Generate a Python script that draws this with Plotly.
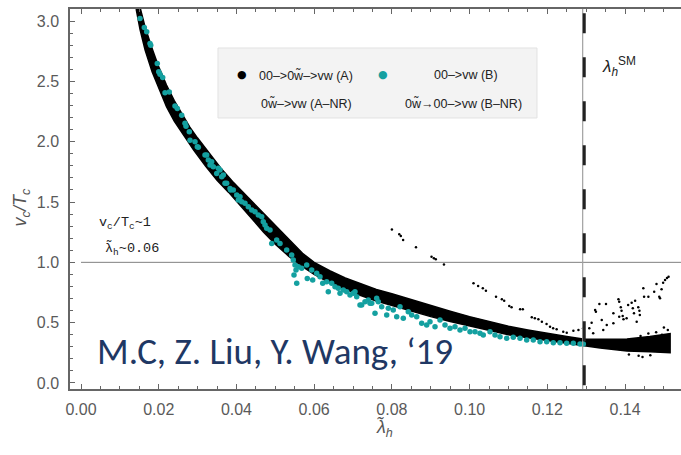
import plotly.graph_objects as go

# ---- black band (A): outline of the dense region, upper edge then lower edge back
band_upper_x = [0.0153, 0.0165, 0.018, 0.020, 0.022, 0.024, 0.026, 0.028, 0.030, 0.033,
                0.036, 0.039, 0.042, 0.045, 0.048, 0.051, 0.054, 0.057, 0.060, 0.064,
                0.068, 0.072, 0.076, 0.080, 0.085, 0.090, 0.095, 0.100, 0.105, 0.110,
                0.115, 0.120, 0.125, 0.1292, 0.1336, 0.1405, 0.1464, 0.1516]
band_upper_y = [3.10, 2.95, 2.80, 2.62, 2.47, 2.34, 2.23, 2.12, 2.03, 1.90,
                1.78, 1.67, 1.57, 1.47, 1.37, 1.27, 1.17, 1.075, 1.00, 0.93,
                0.87, 0.82, 0.775, 0.74, 0.69, 0.64, 0.595, 0.55, 0.51, 0.47,
                0.44, 0.41, 0.385, 0.365, 0.362, 0.365, 0.385, 0.41]
band_lower_x = [0.1516, 0.1464, 0.1405, 0.1336, 0.1292, 0.125, 0.120, 0.115, 0.110, 0.105,
                0.100, 0.095, 0.090, 0.085, 0.080, 0.076, 0.072, 0.068, 0.064, 0.060,
                0.057, 0.0535, 0.050, 0.047, 0.044, 0.041, 0.038, 0.035, 0.032, 0.029,
                0.026, 0.024, 0.022, 0.0202, 0.0183, 0.0165, 0.0152, 0.0142]
band_lower_y = [0.25, 0.258, 0.266, 0.29, 0.31, 0.325, 0.35, 0.375, 0.40, 0.435,
                0.47, 0.51, 0.55, 0.595, 0.64, 0.68, 0.725, 0.775, 0.83, 0.90,
                0.965, 1.05, 1.15, 1.25, 1.36, 1.47, 1.58, 1.68, 1.80, 1.93,
                2.07, 2.17, 2.29, 2.43, 2.58, 2.76, 2.93, 3.10]

# ---- sparse black points (A-NR etc.)
sparse_x = [0.0800, 0.0819, 0.0823, 0.0829, 0.0862, 0.0902, 0.0908, 0.0913, 0.0934,
            0.1010, 0.1022, 0.1034, 0.1042, 0.1068, 0.1083, 0.1089, 0.1102, 0.1108,
            0.1130, 0.1137, 0.1160, 0.1168, 0.1177, 0.1186, 0.1198, 0.1207, 0.1215,
            0.1224, 0.1241, 0.1250, 0.1267, 0.1280, 0.1292,
            0.1334, 0.1351, 0.1323, 0.1325, 0.1383, 0.1385, 0.1370, 0.1389, 0.1391,
            0.1385, 0.1394, 0.1396, 0.1404, 0.1408, 0.1417, 0.1420, 0.1423, 0.1426,
            0.1434, 0.1437, 0.1438, 0.1447, 0.1449, 0.1460, 0.1475, 0.1481, 0.1488,
            0.1494, 0.1498, 0.1503, 0.1340, 0.1344, 0.1353, 0.1314, 0.1308, 0.1318,
            0.1430, 0.1370, 0.1490, 0.1508, 0.1512,
            0.1480, 0.1500, 0.1510, 0.1495, 0.1460, 0.1440,
            0.1410, 0.1435, 0.1445, 0.1465]
sparse_y = [1.273, 1.232, 1.218, 1.185, 1.124, 1.046, 1.033, 1.025, 0.983,
            0.826, 0.804, 0.785, 0.765, 0.715, 0.693, 0.682, 0.638, 0.627,
            0.611, 0.611, 0.544, 0.536, 0.528, 0.508, 0.489, 0.466, 0.453,
            0.445, 0.425, 0.417, 0.433, 0.439, 0.453,
            0.655, 0.655, 0.605, 0.591, 0.693, 0.674, 0.577, 0.627, 0.599,
            0.549, 0.555, 0.528, 0.536, 0.646, 0.665, 0.619, 0.577, 0.682,
            0.627, 0.599, 0.563, 0.785, 0.715, 0.715, 0.756, 0.820, 0.715,
            0.776, 0.831, 0.853, 0.522, 0.439, 0.481, 0.500, 0.453, 0.412,
            0.508, 0.494, 0.702, 0.870, 0.880,
            0.420, 0.460, 0.440, 0.400, 0.410, 0.390,
            0.235, 0.225, 0.215, 0.230]

# ---- teal points (B)
teal_x = [0.01518, 0.01629, 0.01691, 0.01776, 0.01794, 0.01963, 0.02000, 0.02033, 0.02102,
          0.02162, 0.02272, 0.02419, 0.02478, 0.02591, 0.02676, 0.02702, 0.02787, 0.02805,
          0.02934, 0.02993, 0.03019, 0.03235, 0.03276, 0.03320, 0.03363, 0.03404, 0.03492,
          0.03533, 0.03577, 0.03621, 0.03662, 0.03749, 0.03834, 0.03919, 0.04007, 0.04092,
          0.03191, 0.03706, 0.03852, 0.04048, 0.04135, 0.04220, 0.04305, 0.04393, 0.04478,
          0.04563, 0.04650, 0.04691, 0.04735, 0.04779, 0.04864, 0.04907, 0.05036, 0.05121,
          0.05293, 0.05422, 0.05463, 0.05507, 0.05533, 0.05481, 0.05551, 0.05592, 0.05679,
          0.05808, 0.05823, 0.05937, 0.05962, 0.06065, 0.06150, 0.06220, 0.06323, 0.06364,
          0.06451, 0.06536, 0.06621, 0.06665, 0.06750, 0.06837, 0.06922, 0.07007, 0.07095,
          0.07223, 0.07308, 0.07393, 0.07481, 0.07566, 0.07609, 0.07650,
          0.07051, 0.07180, 0.07437, 0.07738, 0.07867, 0.07908, 0.08036, 0.08124, 0.08209,
          0.08294, 0.08422, 0.08510, 0.08639, 0.08767, 0.08896, 0.08981, 0.09110, 0.09238,
          0.09367, 0.09496, 0.09624, 0.09753, 0.09882, 0.10010, 0.10139, 0.10268, 0.10352,
          0.10525, 0.10654, 0.10782, 0.10955, 0.11124, 0.11297, 0.11469, 0.11639, 0.11812,
          0.11984, 0.12154, 0.12326, 0.12498, 0.12669, 0.12841, 0.12926]
teal_y = [3.022, 2.947, 2.911, 2.814, 2.800, 2.649, 2.579, 2.560, 2.533,
          2.405, 2.413, 2.295, 2.276, 2.220, 2.152, 2.129, 2.082, 2.013,
          1.999, 1.958, 1.953, 1.889, 1.848, 1.806, 1.833, 1.792, 1.737,
          1.779, 1.765, 1.709, 1.723, 1.655, 1.613, 1.599, 1.558, 1.544,
          1.889, 1.655, 1.599, 1.516, 1.502, 1.489, 1.461, 1.433, 1.419,
          1.392, 1.378, 1.336, 1.309, 1.282, 1.268, 1.157, 1.185, 1.157,
          1.102, 1.060, 1.019, 0.978, 0.936, 0.895, 0.826, 0.964, 0.950,
          0.978, 0.867, 0.936, 0.853, 0.909, 0.881, 0.826, 0.839, 0.756,
          0.826, 0.798, 0.785, 0.743, 0.771, 0.756, 0.729, 0.743, 0.715,
          0.646, 0.674, 0.688, 0.660, 0.577, 0.702, 0.674,
          0.756, 0.646, 0.660, 0.632, 0.563, 0.619, 0.605, 0.549, 0.632,
          0.536, 0.591, 0.563, 0.549, 0.495, 0.481, 0.508, 0.466, 0.522,
          0.481, 0.453, 0.466, 0.439, 0.453, 0.425, 0.425, 0.412, 0.398,
          0.425, 0.398, 0.384, 0.370, 0.379, 0.370, 0.356, 0.356, 0.342,
          0.342, 0.334, 0.334, 0.329, 0.329, 0.323, 0.323]

x_ticks = [0.00, 0.02, 0.04, 0.06, 0.08, 0.10, 0.12, 0.14]
y_ticks = [0.0, 0.5, 1.0, 1.5, 2.0, 2.5, 3.0]
lambda_sm = 0.1291
x_range = [-0.00283, 0.1544]
y_range = [-0.05, 3.1]

TEAL = "rgb(20,160,160)"
AXC = "#666666"

fig = go.Figure()
fig.add_trace(go.Scatter(x=band_upper_x + band_lower_x, y=band_upper_y + band_lower_y,
                         mode="lines", fill="toself", fillcolor="black",
                         line=dict(color="black", width=1.5),
                         hoverinfo="skip", showlegend=False))
fig.add_trace(go.Scatter(x=sparse_x, y=sparse_y, mode="markers",
                         marker=dict(color="black", size=2.5), showlegend=False))
fig.add_trace(go.Scatter(x=teal_x, y=teal_y, mode="markers",
                         marker=dict(color=TEAL, size=5.5), showlegend=False))

# reference lines
fig.add_shape(type="line", xref="x", yref="y", x0=0, x1=x_range[1], y0=1.0, y1=1.0,
              line=dict(color="#808080", width=1), layer="below")
fig.add_shape(type="line", xref="x", yref="y", x0=lambda_sm, x1=lambda_sm,
              y0=y_range[0], y1=y_range[1], line=dict(color="#a0a0a0", width=1.2))
fig.add_shape(type="line", xref="x", yref="y", x0=lambda_sm + 0.0004, x1=lambda_sm + 0.0004,
              y0=3.065, y1=y_range[0], line=dict(color="#222222", width=3, dash="20px,24px"))

# custom legend box
fig.add_shape(type="rect", xref="paper", yref="paper", x0=0.2422, x1=0.7643, y0=0.7132, y1=0.8974,
              fillcolor="#f3f3f3", line=dict(color="#e2e2e2", width=1), layer="above")

lf = dict(family="Liberation Sans, Arial", size=12.5, color="#222222")
r1, r2 = 0.8500, 0.7760
ann = [
    dict(x=0.2700, y=r1, text="●", font=dict(family="DejaVu Sans", size=11, color="black")),
    dict(x=0.3863, y=r1, text="00–>0w̃–>vw (A)", font=lf),
    dict(x=0.5123, y=r1, text="●", font=dict(family="DejaVu Sans", size=11, color=TEAL)),
    dict(x=0.6481, y=r1, text="00–>vw (B)", font=lf),
    dict(x=0.3863, y=r2, text="0w̃–>vw (A–NR)", font=lf),
    dict(x=0.6448, y=r2, text="0w̃→00–>vw (B–NR)", font=lf),
    dict(x=0.044, y=0.435, xanchor="left", text="v<sub>c</sub>/T<sub>c</sub>~1",
         font=dict(family="Liberation Mono", size=13.5, color="#222222")),
    dict(x=0.054, y=0.368, xanchor="left", text="λ̃<sub>h</sub>~0.06",
         font=dict(family="Liberation Mono", size=13.5, color="#222222")),
    dict(x=0.930, y=0.888, text="<i>λ<sub>h</sub></i><sup>SM</sup>",
         font=dict(family="Liberation Sans", size=17, color="#222222")),
    dict(x=0.3355, y=0.033, text="M.C, Z. Liu, Y. Wang, ‘19",
         font=dict(family="Carlito, Liberation Sans Narrow, Liberation Sans", size=37, color="#1F3864")),
    dict(x=0.5155, y=-0.14, text="<i>λ̃<sub>h</sub></i>",
         font=dict(family="Liberation Sans", size=18, color="#555555")),
    dict(x=-0.100, y=0.479, textangle=-90, text="<i>v<sub>c</sub>/T<sub>c</sub></i>",
         font=dict(family="Liberation Sans", size=18, color="#555555")),
]
for a in ann:
    a.setdefault("xref", "paper")
    a.setdefault("yref", "paper")
    a.setdefault("showarrow", False)
    fig.add_annotation(**a)

fig.update_layout(
    width=681, height=455,
    margin=dict(l=70, r=0, t=9, b=66),
    paper_bgcolor="white", plot_bgcolor="white",
    showlegend=False,
    font=dict(family="Liberation Sans, Arial", color="#555555"),
)
fig.update_xaxes(range=x_range, tickvals=x_ticks, tickformat=".2f", ticks="inside",
                 ticklen=5, tickwidth=1, tickcolor=AXC, showline=True, linecolor=AXC,
                 linewidth=1.5, mirror="ticks", showgrid=False, zeroline=False,
                 ticklabelstandoff=5,
                 tickfont=dict(size=16, color="#5a5a5a"),
                 minor=dict(dtick=0.005, tick0=0, ticks="inside", ticklen=3, tickcolor=AXC))
fig.update_yaxes(range=y_range, tickvals=y_ticks, tickformat=".1f", ticks="inside",
                 ticklen=5, tickwidth=1, tickcolor=AXC, showline=True, linecolor=AXC,
                 linewidth=1.5, showgrid=False, zeroline=False,
                 ticklabelstandoff=6,
                 tickfont=dict(size=16, color="#5a5a5a"),
                 minor=dict(dtick=0.1, tick0=0, ticks="inside", ticklen=3, tickcolor=AXC))

fig.write_html("out.html")
